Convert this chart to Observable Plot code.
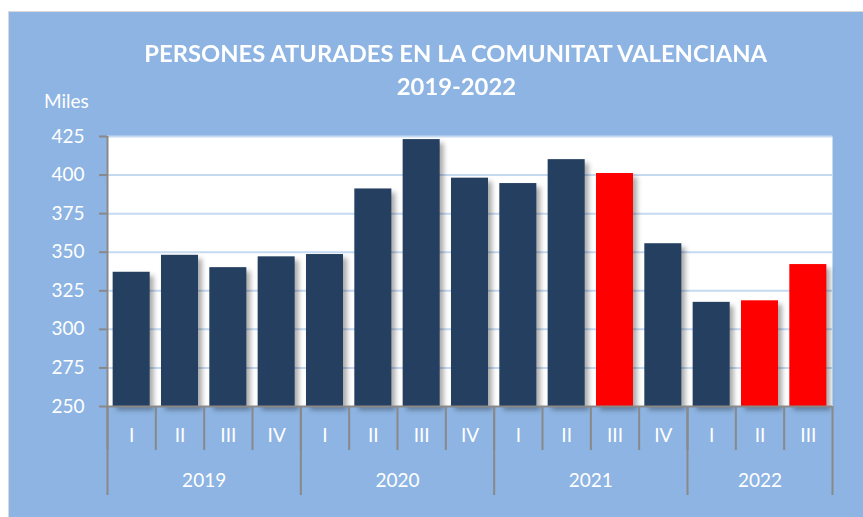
<!DOCTYPE html>
<html><head><meta charset="utf-8">
<script src="https://cdn.jsdelivr.net/npm/d3@7"></script>
<script src="https://cdn.jsdelivr.net/npm/@observablehq/plot@0.6"></script>
<style>
html,body{margin:0;padding:0;background:#fff;}
#wrap{position:relative;width:863px;height:517px;overflow:hidden;font-family:Lato,"Open Sans",sans-serif;}
#bg{position:absolute;left:8px;top:11px;width:855px;height:506px;background:#8DB4E2;border-left:1px solid #d9d9d9;border-top:1px solid #d9d9d9;}
#title{position:absolute;left:106px;width:700px;top:37px;color:#fff;font-weight:700;text-align:center;line-height:33px;white-space:nowrap;}
#title span{display:inline-block;transform-origin:50% 50%;}
#unit{position:absolute;left:44px;top:91px;color:#fff;font-size:19px;line-height:20px;}
#chart{position:absolute;left:9px;top:95px;}
#chart svg [aria-label="y-axis tick"]{stroke:#898989;}
</style></head><body>
<div id="wrap">
  <div id="bg"></div>
  <div id="title"></div>
  <div id="unit"></div>
  <div id="chart"></div>
</div>
<script>
// ---- data ----
const titleLines = ["PERSONES ATURADES EN LA COMUNITAT VALENCIANA", "2019-2022"];
const yUnit = "Miles";
const years = ["2019", "2020", "2021", "2022"];
const quartersPerYear = [4, 4, 4, 3];
const quarterLabels = ["I", "II", "III", "IV"];
const values = [337, 348, 340, 347, 348.5, 391, 423, 398, 394.5, 410, 401, 355.5, 317.5, 318.5, 342];
const highlighted = [0, 0, 0, 0, 0, 0, 0, 0, 0, 0, 1, 0, 0, 1, 1];
const yTicks = [250, 275, 300, 325, 350, 375, 400, 425];

// ---- build table ----
const rows = [];
const yearRows = [];
years.forEach((yr, yi) => {
  const start = rows.length;
  for (let q = 0; q < quartersPerYear[yi]; q++) {
    const i = rows.length;
    rows.push({key: yr + "-" + quarterLabels[q], year: yr, quarter: quarterLabels[q], value: values[i], red: highlighted[i] === 1});
  }
  yearRows.push({year: yr, start, n: quartersPerYear[yi]});
});
yearRows.forEach(d => {
  d.firstKey = rows[d.start].key;
  d.even = d.n % 2 === 0;
  d.centerKey = rows[d.start + (d.even ? d.n / 2 - 1 : (d.n - 1) / 2)].key;
});

// ---- layout ----
const W = 854, H = 422, mL = 98, mR = 31, mT = 41, mB = 111;
const plotW = W - mL - mR, plotH = H - mT - mB;
const step = plotW / rows.length;
const yMin = yTicks[0], yMax = yTicks[yTicks.length - 1];
const upp = (yMax - yMin) / plotH;
const yQuarterEnd = yMin - 44 * upp;
const yYearEnd = yMin - 89 * upp;
const gray = "#898989";
const navy = "#243F60";
const red = "#FF0000";

// title: Calibri-like tall, narrow letters via horizontal compression
const title = document.getElementById("title");
const tSize = 22.5;
title.style.fontSize = tSize + "px";
const ctx = document.createElement("canvas").getContext("2d");
ctx.font = "700 " + tSize + "px Lato";
const sx = 626 / ctx.measureText(titleLines[0]).width;
title.innerHTML = titleLines.map(t => '<div><span style="transform:scaleX(' + sx.toFixed(4) + ')">' + t + "</span></div>").join("");
document.getElementById("unit").textContent = yUnit;

const chart = Plot.plot({
  width: W, height: H,
  marginLeft: mL, marginRight: mR, marginTop: mT, marginBottom: mB,
  style: {background: "transparent", fontFamily: "Lato, 'Open Sans', sans-serif", overflow: "visible"},
  x: {domain: rows.map(d => d.key), paddingInner: 0.234, paddingOuter: 0.117, round: false, axis: null},
  y: {domain: [yMin, yMax], axis: null},
  marks: [
    Plot.frame({fill: "white", stroke: null}),
    Plot.ruleY(yTicks.filter(t => t > yMin), {y: d => d, stroke: "#C5D9F1", strokeWidth: 2}),
    Plot.barY(rows, {x: "key", y1: yMin, y2: "value", dx: 4, dy: 4, fill: "#000", fillOpacity: 0.33}),
    Plot.barY(rows.filter(d => !d.red), {x: "key", y1: yMin, y2: "value", fill: navy}),
    Plot.barY(rows.filter(d => d.red), {x: "key", y1: yMin, y2: "value", fill: red}),
    Plot.axisY({ticks: yTicks, tickSize: 8, tickFormat: () => "", stroke: gray, strokeWidth: 2, label: null}),
    Plot.text(yTicks, {y: d => d, frameAnchor: "left", dx: -23, textAnchor: "end", text: d => String(d), fill: "white", fontSize: 19}),
    Plot.ruleY([yMin], {y: d => d, stroke: gray, strokeWidth: 2}),
    Plot.ruleX([rows[0]], {x: "key", dx: -step / 2, y1: yMax, y2: yMin, stroke: gray, strokeWidth: 2}),
    Plot.ruleX(rows, {x: "key", dx: -step / 2, y1: yMin, y2: yQuarterEnd, stroke: gray, strokeWidth: 2}),
    Plot.ruleX(yearRows, {x: "firstKey", dx: -step / 2, y1: yMin, y2: yYearEnd, stroke: gray, strokeWidth: 2}),
    Plot.ruleX([rows[rows.length - 1]], {x: "key", dx: step / 2, y1: yMin, y2: yYearEnd, stroke: gray, strokeWidth: 2}),
    Plot.text(rows, {x: "key", y: yMin, dy: 29, text: "quarter", fill: "white", fontSize: 19}),
    Plot.text(yearRows.filter(d => d.even), {x: "centerKey", y: yMin, dx: step / 2, dy: 74, text: "year", fill: "white", fontSize: 19}),
    Plot.text(yearRows.filter(d => !d.even), {x: "centerKey", y: yMin, dy: 74, text: "year", fill: "white", fontSize: 19})
  ]
});
document.getElementById("chart").appendChild(chart);

// soft shadow on the first bar layer
const svg = d3.select(chart);
const defs = svg.insert("defs", ":first-child");
defs.append("filter").attr("id", "barShadow").attr("x", "-20%").attr("y", "-20%").attr("width", "140%").attr("height", "140%")
  .append("feGaussianBlur").attr("stdDeviation", 2.4);
const firstBar = chart.querySelector('g[aria-label="bar"]');
if (firstBar) firstBar.setAttribute("filter", "url(#barShadow)");
</script>
</body></html>
